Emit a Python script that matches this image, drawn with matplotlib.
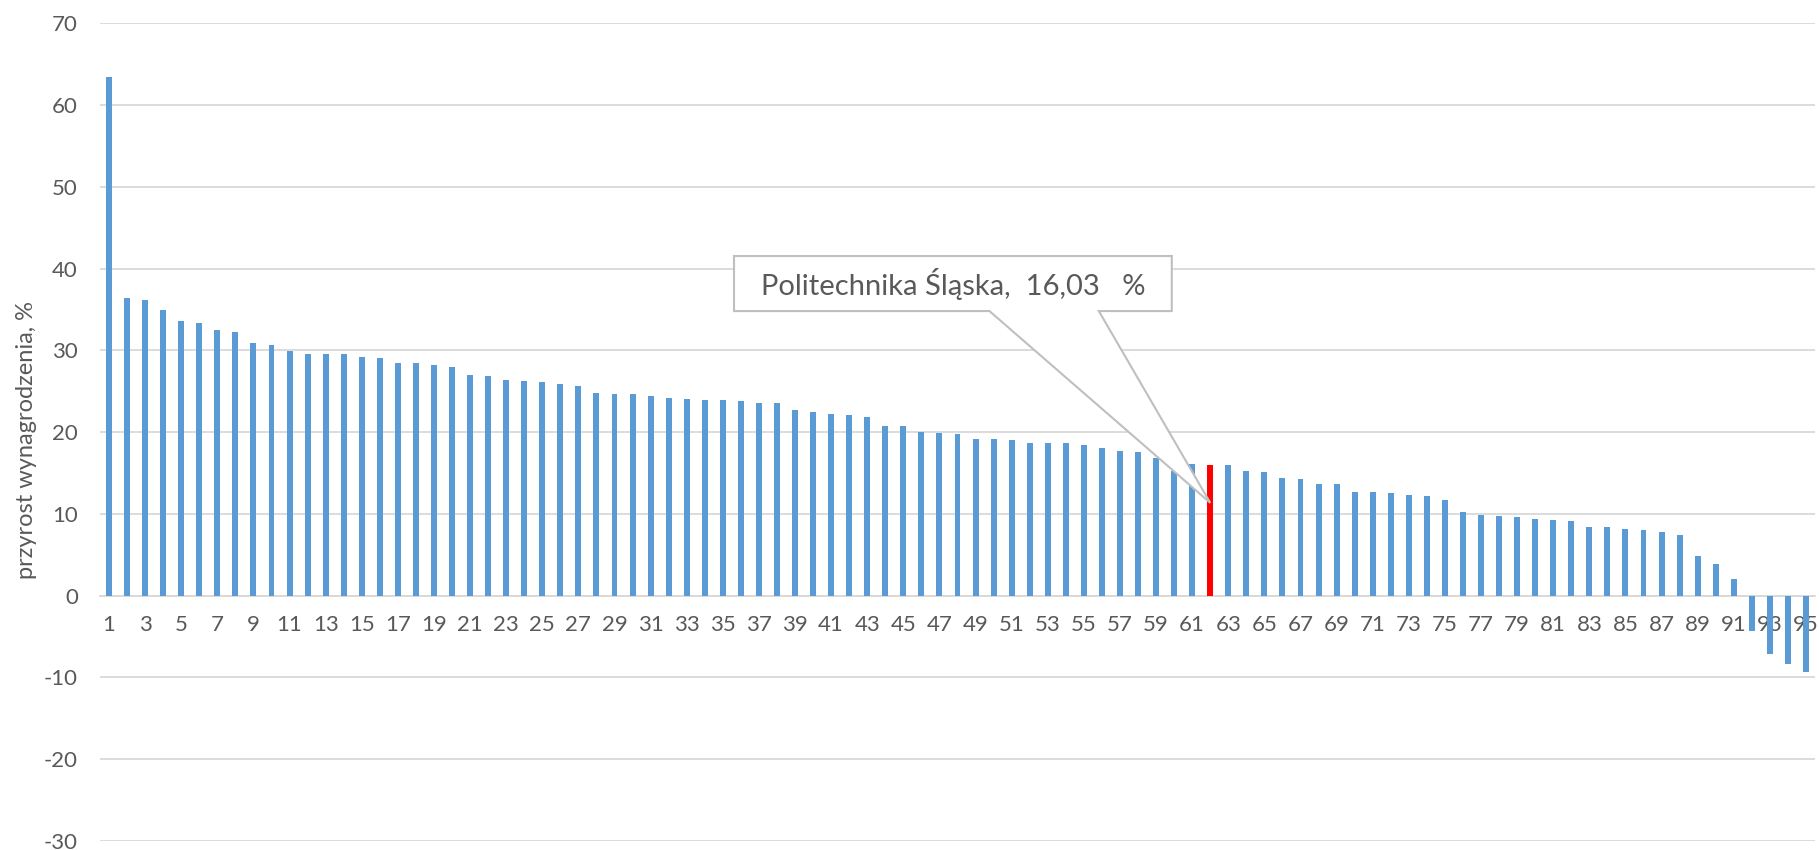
import matplotlib
matplotlib.use("Agg")
import matplotlib.pyplot as plt
from matplotlib.patches import Polygon
import numpy as np

# przyrost wynagrodzenia (%), uczelnie posortowane malejąco
values = [63.4, 36.4, 36.1, 34.9, 33.6, 33.3, 32.5, 32.3, 30.9, 30.7,
          29.9, 29.6, 29.6, 29.5, 29.2, 29.0, 28.5, 28.4, 28.2, 27.9,
          27.0, 26.9, 26.4, 26.2, 26.1, 25.9, 25.6, 24.8, 24.6, 24.6,
          24.4, 24.2, 24.1, 23.9, 23.9, 23.8, 23.5, 23.5, 22.7, 22.5,
          22.2, 22.1, 21.9, 20.8, 20.7, 20.0, 19.9, 19.8, 19.2, 19.2,
          19.0, 18.7, 18.7, 18.7, 18.4, 18.1, 17.7, 17.6, 16.8, 15.3,
          16.1, 16.03, 15.95, 15.2, 15.1, 14.4, 14.3, 13.7, 13.7, 12.7,
          12.7, 12.6, 12.3, 12.2, 11.7, 10.2, 9.9, 9.7, 9.6, 9.4,
          9.2, 9.1, 8.4, 8.4, 8.1, 8.0, 7.8, 7.4, 4.9, 3.9,
          2.0, -4.3, -7.1, -8.4, -9.3]
positions = list(range(1, len(values) + 1))
highlight = 62
highlight_label = 'Politechnika Śląska,  16,03   %'
yticks = [-30, -20, -10, 0, 10, 20, 30, 40, 50, 60, 70]

blue = '#5b9bd5'
grey_txt = '#595959'
grid_c = '#d9d9d9'

plt.rcParams['font.family'] = ['Lato', 'DejaVu Sans']
plt.rcParams['axes.unicode_minus'] = False

fig = plt.figure(figsize=(18.19, 8.5), dpi=100)
ax = fig.add_axes([100/1819, 1 - 841/850, (1815 - 100)/1819, (841 - 23.2)/850])

colors = ['#ff0000' if p == highlight else blue for p in positions]
ax.bar(positions, values, width=0.33, color=colors, zorder=3)

ax.set_xlim(0.5, len(values) + 0.5)
ax.set_ylim(-30, 70)
ax.set_yticks(yticks)
ax.set_xticks(positions[::2])
ax.set_xticklabels([str(p) for p in positions[::2]])
ax.yaxis.grid(True, color=grid_c, linewidth=1.3)
ax.set_axisbelow(True)

for s in ['top', 'right', 'left']:
    ax.spines[s].set_visible(False)
ax.spines['bottom'].set_position(('data', 0))
ax.spines['bottom'].set_color(grid_c)
ax.spines['bottom'].set_linewidth(1.3)

ax.tick_params(axis='y', length=0, pad=16, labelsize=16, labelcolor=grey_txt)
ax.tick_params(axis='x', length=0, pad=14, labelsize=16, labelcolor=grey_txt)

ax.set_ylabel('przyrost wynagrodzenia, %', fontsize=17, color=grey_txt)
ax.yaxis.set_label_coords(-0.0367, 0.49)

# callout
bx0, bx1, by0, by1 = 35.62, 59.87, 34.8, 41.53
w0, w1 = 49.77, 55.83
tip = (62.0, 11.35)
callout = Polygon([(bx0, by0), (bx0, by1), (bx1, by1), (bx1, by0),
                   (w1, by0), tip, (w0, by0)],
                  closed=True, facecolor='white', edgecolor='#bfbfbf',
                  linewidth=1.5, zorder=5)
ax.add_patch(callout)
ax.text((bx0 + bx1) / 2, (by0 + by1) / 2, highlight_label, ha='center', va='center',
        fontsize=21, color=grey_txt, zorder=6)

fig.savefig('out.png', dpi=100)
